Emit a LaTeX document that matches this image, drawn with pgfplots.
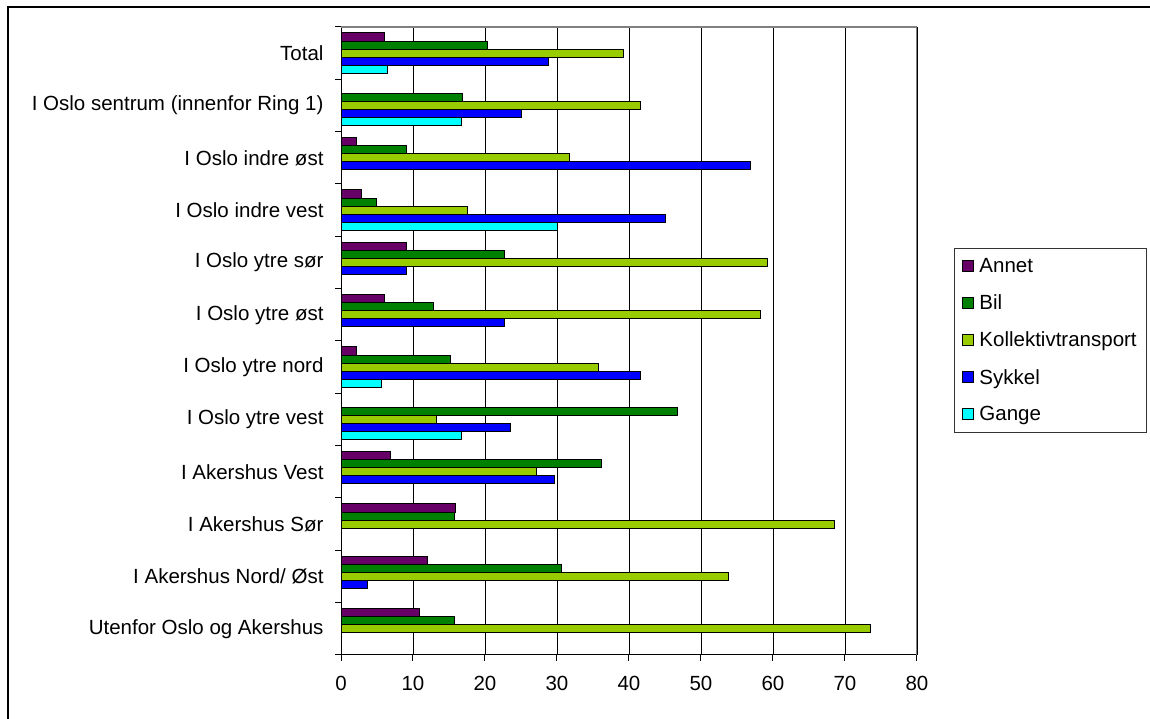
\documentclass[border=0pt]{standalone}
\usepackage{pgfplots}
\pgfplotsset{compat=1.18}
\usepackage{fontspec}
\setmainfont{Liberation Sans}

\definecolor{cAnnet}{HTML}{660066}
\definecolor{cBil}{HTML}{008000}
\definecolor{cKoll}{HTML}{99CC00}
\definecolor{cSykkel}{HTML}{0000FF}
\definecolor{cGange}{HTML}{00FFFF}

% y index: 11 = Total (top) ... 0 = Utenfor Oslo og Akershus (bottom)
\pgfplotstableread{
y  v
11 6.1
9  2.1
8  2.9
7  9.1
6  6.1
5  2.1
3  6.9
2  15.9
1  12.0
0  10.9
}\annet
\pgfplotstableread{
y  v
11 20.3
10 16.9
9  9.1
8  5.0
7  22.7
6  12.8
5  15.2
4  46.7
3  36.2
2  15.7
1  30.6
0  15.7
}\bil
\pgfplotstableread{
y  v
11 39.2
10 41.6
9  31.8
8  17.6
7  59.3
6  58.2
5  35.7
4  13.3
3  27.1
2  68.5
1  53.8
0  73.5
}\koll
\pgfplotstableread{
y  v
11 28.8
10 25.1
9  56.9
8  45.1
7  9.1
6  22.7
5  41.6
4  23.5
3  29.6
1  3.7
}\sykkel
\pgfplotstableread{
y  v
11 6.4
10 16.8
8  30.1
5  5.6
4  16.8
}\gange

\newcommand{\chartfont}{\fontsize{20.5bp}{24bp}\selectfont}

\begin{document}
\begin{tikzpicture}
\useasboundingbox (0bp,0bp) rectangle (1150bp,719bp);
% outer chart frame
\draw[line width=1.2bp] (8bp,-2bp) -- (8bp,712bp) -- (1152bp,712bp);
\begin{axis}[
  at={(341bp,64bp)}, anchor=south west,
  scale only axis, width=576bp, height=628bp,
  xmin=0, xmax=80, ymin=-0.5, ymax=11.5,
  axis x line*=bottom, axis y line*=left,
  axis line style={black, line width=1bp},
  xbar, bar width=8.07bp,
  xtick={0,10,...,80},
  ytick={0,...,11},
  yticklabels={Utenfor Oslo og Akershus, I Akershus Nord/ Øst, I Akershus Sør, I Akershus Vest, I Oslo ytre vest, I Oslo ytre nord, I Oslo ytre øst, I Oslo ytre sør, I Oslo indre vest, I Oslo indre øst, I Oslo sentrum (innenfor Ring 1), Total},
  minor ytick={-0.5,0.5,...,11.5},
  tick align=outside,
  major tick length=6bp, minor tick length=6bp,
  x tick style={black, line width=1bp},
  major y tick style={draw=none},
  minor y tick style={black, line width=1bp},
  xmajorgrids,
  major grid style={black, line width=0.8bp},
  /pgf/number format/assume math mode=true,
  tick label style={font=\chartfont},
  xticklabel style={yshift=-12bp},
  yticklabel style={xshift=-8bp},
  legend style={at={(1.0642,0.648)}, anchor=north west,
    draw=black!80, line width=1bp, font=\chartfont,
    inner xsep=8bp, inner ysep=8bp, row sep=16.8bp,
    /tikz/every odd column/.append style={column sep=3bp}},
  legend cell align=left,
  legend image code/.code={\draw[#1,draw=black,line width=1bp] (0bp,-5.5bp) rectangle (11bp,5.5bp);},
  every axis plot/.append style={draw=black, line width=1bp},
]
\addplot[fill=cAnnet,  bar shift=16.14bp] table[x=v,y=y] {\annet};
\addplot[fill=cBil,    bar shift=8.07bp]  table[x=v,y=y] {\bil};
\addplot[fill=cKoll,   bar shift=0bp]     table[x=v,y=y] {\koll};
\addplot[fill=cSykkel, bar shift=-8.07bp] table[x=v,y=y] {\sykkel};
\addplot[fill=cGange,  bar shift=-16.14bp] table[x=v,y=y] {\gange};
\legend{Annet, Bil, Kollektivtransport, Sykkel, Gange}
% grey plot-area border on top and right
\draw[gray, line width=1.3bp] (rel axis cs:0,1) -- (rel axis cs:1,1) -- (rel axis cs:1,0);
\end{axis}
\end{tikzpicture}
\end{document}
